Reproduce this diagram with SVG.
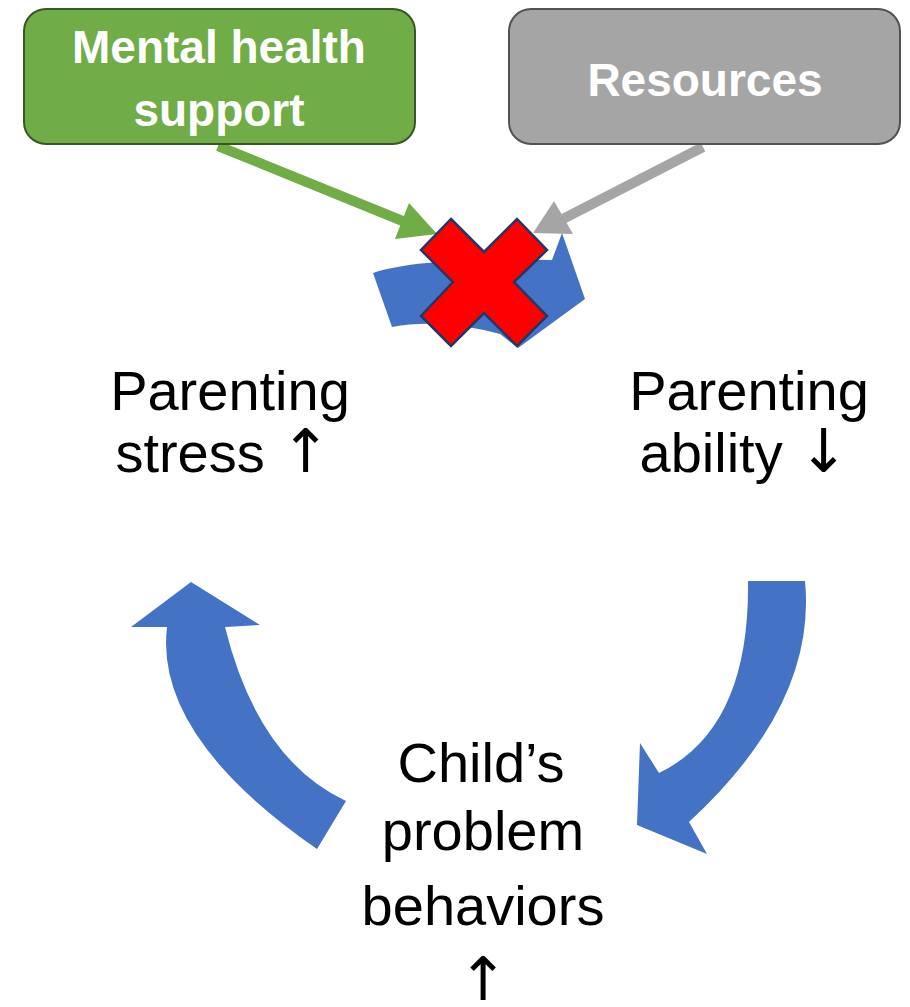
<svg xmlns="http://www.w3.org/2000/svg" width="910" height="1007" viewBox="0 0 910 1007">
<style>
.lbl{font-family:"Liberation Sans",Arial,sans-serif;font-size:56px;fill:#000;text-anchor:middle}
.arr{font-family:"DejaVu Sans",sans-serif;font-size:60px}
.box{font-family:"Liberation Sans",Arial,sans-serif;font-size:46px;font-weight:bold;fill:#fff;text-anchor:middle}
.blue{fill:#4472C4}
</style>
<rect width="910" height="1007" fill="#fff"/>
<g id="connectors">
  <path id="cycle-top" class="blue" d="M373,273 Q420,257 552,260 L562,233 L585,299 L518,348 L500,334 Q440,318 392,327 Z"/>
  <path id="cycle-right" class="blue" d="M748,581 L805,581 Q817,704 689,822 L707,854 L637,825 L640,743 L659,773 Q750,729 748,581 Z"/>
  <path id="cycle-left" class="blue" d="M191,582 L260,625 L225,627 Q258,760 346,801 L317,849 Q154,736 167,627 L131,627 Z"/>
  <g id="green-arrow">
    <line x1="218" y1="146" x2="410" y2="224" stroke="#70AD47" stroke-width="10"/>
    <polygon points="437,234 409,203 395,239" fill="#70AD47"/>
  </g>
  <g id="gray-arrow">
    <line x1="703" y1="147" x2="557" y2="222" stroke="#A5A5A5" stroke-width="10"/>
    <polygon points="533,233 554,201 573,234" fill="#A5A5A5"/>
  </g>
</g>
<g id="block-x">
  <polygon points="451,219 484,252 517,219 547,250 514,282 547,316 517,346 484,313 451,346 421,316 453,282 421,250" fill="#FF0000" stroke="#1F3864" stroke-width="2.5" stroke-linejoin="miter"/>
</g>
<g id="mental-health-support">
  <rect x="24" y="9" width="391" height="135" rx="22" fill="#70AD47" stroke="#385723" stroke-width="2"/>
  <text class="box" x="219" y="63">Mental health</text>
  <text class="box" x="219" y="126">support</text>
</g>
<g id="resources">
  <rect x="509" y="9" width="391" height="135" rx="22" fill="#A5A5A5" stroke="#525252" stroke-width="2"/>
  <text class="box" x="705" y="96">Resources</text>
</g>
<g id="parenting-stress">
  <text class="lbl" x="230" y="410">Parenting</text>
  <text class="lbl" x="223" y="472">stress <tspan class="arr">↑</tspan></text>
</g>
<g id="parenting-ability">
  <text class="lbl" x="749" y="410">Parenting</text>
  <text class="lbl" x="744" y="472">ability <tspan class="arr">↓</tspan></text>
</g>
<g id="child-problem-behaviors">
  <text class="lbl" x="481" y="782">Child’s</text>
  <text class="lbl" x="483" y="850">problem</text>
  <text class="lbl" x="483" y="925">behaviors</text>
  <text class="lbl" x="483" y="1000"><tspan class="arr">↑</tspan></text>
</g>
</svg>
